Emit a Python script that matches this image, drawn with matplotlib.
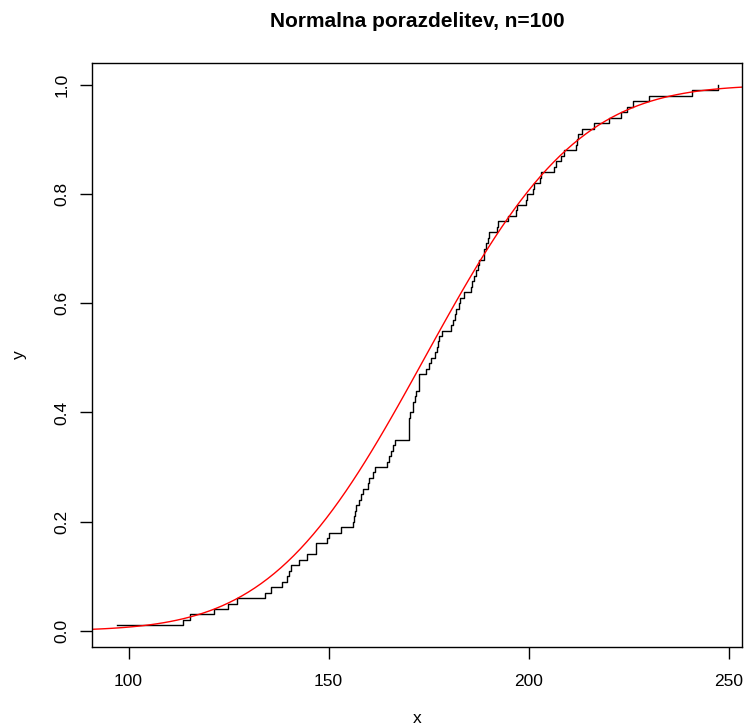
import math

import numpy as np
import matplotlib
matplotlib.use("Agg")
import matplotlib.pyplot as plt


# Sorted sample, n = 100
sample = [
    97.0, 113.5, 115.3, 121.4, 124.9, 127.2, 134.0, 135.7, 138.3, 139.7,
    140.1, 140.5, 142.6, 144.6, 146.8, 146.9, 149.6, 150.2, 153.2, 156.1,
    156.3, 156.6, 156.9, 157.6, 158.2, 158.6, 159.8, 160.2, 161.2, 161.5,
    164.6, 165.1, 165.7, 166.2, 166.7, 170.0, 170.0, 170.2, 170.2, 170.4,
    171.0, 171.2, 171.5, 171.9, 172.5, 172.7, 172.7, 174.4, 175.0, 175.6,
    176.5, 177.0, 177.3, 177.5, 178.4, 180.6, 181.0, 181.5, 181.9, 182.5,
    182.9, 183.7, 185.6, 185.8, 186.2, 186.7, 187.3, 187.5, 188.7, 188.9,
    189.2, 189.8, 190.0, 192.0, 192.2, 194.8, 196.8, 197.0, 199.3, 199.5,
    201.0, 201.4, 202.7, 203.1, 206.2, 206.8, 208.1, 208.9, 211.7, 212.0,
    212.2, 213.3, 216.4, 220.0, 223.1, 224.5, 226.0, 230.1, 240.8, 247.2,
]
mu = 174.0
sigma = 30.0
title = "Normalna porazdelitev, n=100"
xticks = [100, 150, 200, 250]
yticks = [0.0, 0.2, 0.4, 0.6, 0.8, 1.0]


def r_lim(lo, hi):
    # R's default 4% axis padding
    d = (hi - lo) * 0.04
    return lo - d, hi + d


x = np.sort(np.array(sample))
n = len(x)
y = np.arange(1, n + 1) / n

plt.rcParams["font.family"] = ["Liberation Sans", "DejaVu Sans"]

fig = plt.figure(figsize=(7.44, 7.28), dpi=100)
ax = fig.add_axes([0.1243, 0.1113, 0.8726, 0.8018])

ax.plot(x, y, drawstyle="steps-post", color="black", lw=1.0)

xlim = r_lim(x.min(), x.max())
ylim = r_lim(y.min(), y.max())
xc = np.linspace(xlim[0], xlim[1], 101)
yc = 0.5 * (1 + np.vectorize(math.erf)((xc - mu) / (sigma * math.sqrt(2))))
ax.plot(xc, yc, color="red", lw=1.0)

ax.set_xlim(xlim)
ax.set_ylim(ylim)
ax.set_xticks(xticks)
ax.set_xticklabels([str(t) for t in xticks])
ax.set_yticks(yticks)
ax.set_yticklabels([f"{t:.1f}" for t in yticks], rotation=90, va="center")
ax.tick_params(axis="both", direction="out", length=8.6, width=1.0,
               labelsize=12.5, color="black")
ax.tick_params(axis="x", pad=10.5)
ax.tick_params(axis="y", pad=8)
for s in ax.spines.values():
    s.set_linewidth(1.0)

ax.set_xlabel("x", fontsize=12.5, labelpad=16.5)
ax.set_ylabel("y", fontsize=12.5, labelpad=20)
ax.set_title(title, fontsize=15, fontweight="bold", pad=26)

fig.savefig("out.png", dpi=100)
